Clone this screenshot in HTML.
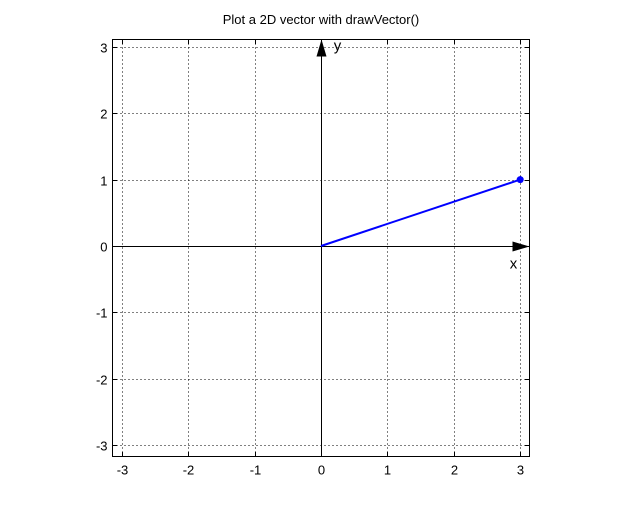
<!DOCTYPE html>
<html><head><meta charset="utf-8"><style>
body{margin:0;background:#fff;}
svg{display:block;font-family:"Liberation Sans",sans-serif;}
</style></head><body>
<svg id="chart" width="620" height="512">
<rect width="620" height="512" fill="#fff"/>
<text x="321" y="24" text-anchor="middle" font-size="13">Plot a 2D vector with drawVector()</text>
<g id="grid"></g>
<g id="ticks"></g>
<rect x="112.5" y="39.5" width="417" height="417" fill="none" stroke="#000"/>
<g id="marks"></g>
</svg>
<script>
const xTicks=[-3,-2,-1,0,1,2,3];
const yTicks=[-3,-2,-1,0,1,2,3];
const vecStart=[0,0];
const vecEnd=[3,1];
const NS="http://www.w3.org/2000/svg";
const X0=321,Y0=246,S=66.4,L=112.5,R=529.5,T=39.5,B=456.5;
const sx=v=>X0+v*S, sy=v=>Y0-v*S;
function mk(tag,attrs,parent,txt){const e=document.createElementNS(NS,tag);for(const k in attrs)e.setAttribute(k,attrs[k]);if(txt!==undefined)e.textContent=txt;document.getElementById(parent).appendChild(e);return e;}
xTicks.forEach(v=>{const x=Math.round(sx(v))+0.5;
 let g=mk('line',{x1:x,x2:x,y1:T,y2:B,stroke:'#000','stroke-dasharray':'1,3','stroke-width':1},'grid');
 
 
 let t=mk('line',{x1:x,x2:x,y1:B,y2:B-5,stroke:'#000'},'ticks');
 
 
 let t2=mk('line',{x1:x,x2:x,y1:T,y2:T+5,stroke:'#000'},'ticks');
 
 
 let l=mk('text',{x:x,y:B+18,'text-anchor':'middle','font-size':13},'ticks',String(v));
 
 
});
yTicks.forEach(v=>{const y=Math.round(sy(v))+0.5;
 let g=mk('line',{x1:L,x2:R,y1:y,y2:y,stroke:'#000','stroke-dasharray':'1,3','stroke-width':1},'grid');
 
 
 let t=mk('line',{x1:L,x2:L+5,y1:y,y2:y,stroke:'#000'},'ticks');
 
 
 let t2=mk('line',{x1:R,x2:R-5,y1:y,y2:y,stroke:'#000'},'ticks');
 
 
 let l=mk('text',{x:L-5,y:y+5,'text-anchor':'end','font-size':13},'ticks',String(v));
 
 
});
const ax=Math.round(sx(0))+0.5, ay=Math.round(sy(0))+0.5;
let a1=mk('line',{x1:L,x2:R-16,y1:ay,y2:ay,stroke:'#000'},'marks');


let a2=mk('polygon',{points:`${R},${ay} ${R-17},${ay-5} ${R-17},${ay+5}`,fill:'#000'},'marks');


let a3=mk('line',{x1:ax,x2:ax,y1:B,y2:T+16,stroke:'#000'},'marks');


let a4=mk('polygon',{points:`${ax},${T} ${ax-5},${T+17} ${ax+5},${T+17}`,fill:'#000'},'marks');


let xl=mk('text',{x:R-16,y:ay+22,'text-anchor':'middle','font-size':15},'marks','x');


let yl=mk('text',{x:ax+16,y:T+11,'text-anchor':'middle','font-size':15},'marks','y');


let v=mk('line',{x1:sx(vecStart[0]),y1:sy(vecStart[1]),x2:sx(vecEnd[0]),y2:sy(vecEnd[1]),stroke:'#0000ff','stroke-width':2},'marks');


let d=mk('circle',{cx:sx(vecEnd[0]),cy:sy(vecEnd[1]),r:3.5,fill:'#0000ff'},'marks');


</script>
</body></html>
